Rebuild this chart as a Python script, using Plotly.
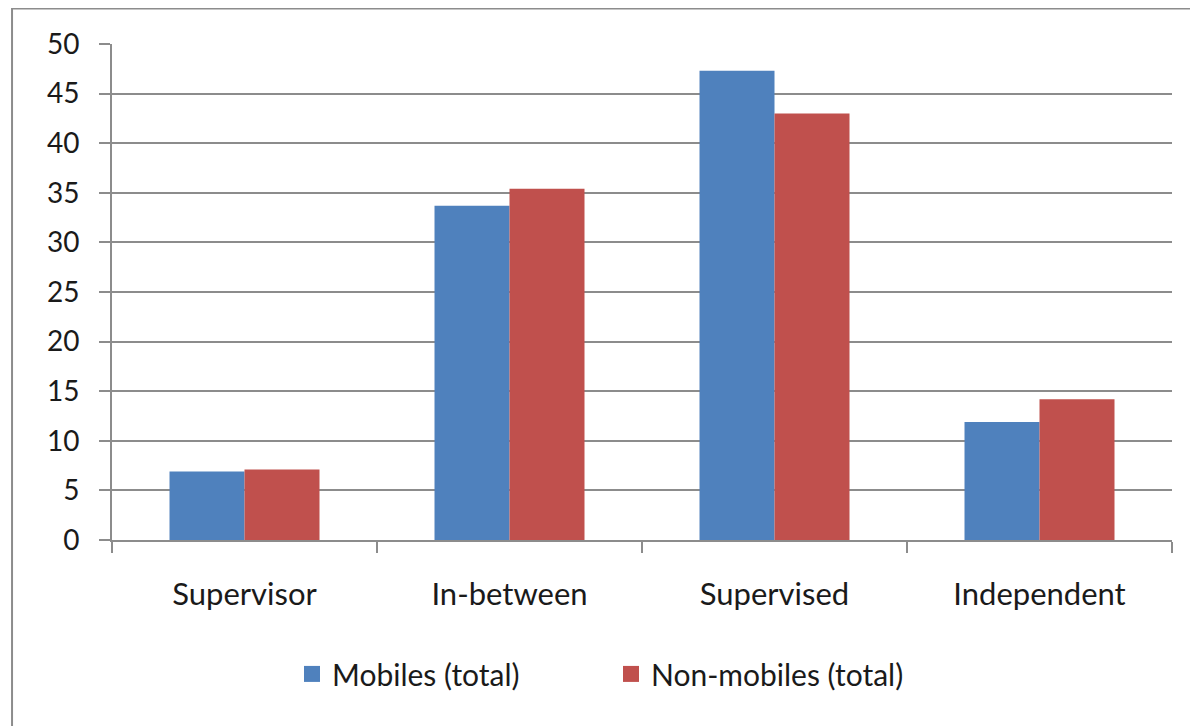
import plotly.graph_objects as go

categories = ["Supervisor", "In-between", "Supervised", "Independent"]
mobiles = [6.9, 33.7, 47.3, 11.9]
non_mobiles = [7.1, 35.4, 43.0, 14.2]
series_names = ["Mobiles (total)", "Non-mobiles (total)"]
colors = ["#4F81BD", "#C0504D"]

grid = "#8c8c8c"
font = "Lato, 'Open Sans', sans-serif"

fig = go.Figure()
for name, vals, col in zip(series_names, [mobiles, non_mobiles], colors):
    fig.add_trace(go.Bar(x=categories, y=vals, name=name, showlegend=False,
                         marker=dict(color=col, line=dict(width=0))))
# bigger square legend keys than plotly's bar swatch
for name, col in zip(series_names, colors):
    fig.add_trace(go.Scatter(x=[None], y=[None], mode="markers", name=name,
                             marker=dict(symbol="square", size=16, color=col)))

# page body has an 8px margin, so the margins are trimmed to line up
fig.update_layout(
    width=1198, height=726,
    margin=dict(l=104, r=34, t=35.5, b=193.7),
    paper_bgcolor="white", plot_bgcolor="white",
    barmode="group", bargap=0.434, bargroupgap=0,
    font=dict(family=font, size=28, color="#1a1a1a"),
    legend=dict(orientation="h", x=0.1698, xanchor="left", y=-0.27, yanchor="middle",
                entrywidth=274, entrywidthmode="pixels",
                font=dict(size=30)),
    showlegend=True,
)
fig.update_xaxes(
    showline=True, linecolor=grid, linewidth=2,
    ticks="outside", tickson="boundaries", ticklen=11, tickcolor=grid, tickwidth=2,
    showgrid=False, ticklabelstandoff=26, tickfont=dict(size=31),
)
fig.update_yaxes(
    range=[0, 50], dtick=5, showline=True, linecolor=grid, linewidth=2,
    ticks="outside", ticklen=11, tickcolor=grid, tickwidth=2,
    showgrid=True, gridcolor=grid, gridwidth=2, zeroline=False,
    ticklabelstandoff=14, tickfont=dict(size=28),
)
# outer chart frame (right and bottom edges fall outside the picture)
fig.add_shape(type="rect", xref="paper", yref="paper",
              x0=-0.0943, x1=1.1, y0=-0.5, y1=1.0715,
              line=dict(color=grid, width=2), layer="below")

fig.write_html("out.html")
